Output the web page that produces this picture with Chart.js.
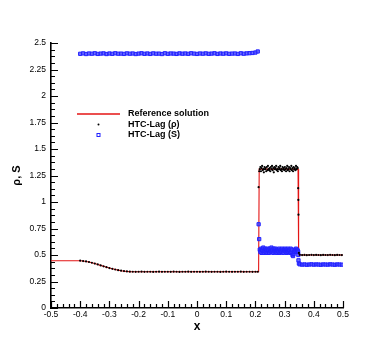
<!DOCTYPE html>
<html><head><meta charset="utf-8">
<script src="https://cdn.jsdelivr.net/npm/chart.js@4"></script>
<style>html,body{margin:0;padding:0;background:#fff;}canvas{display:block;}</style>
</head><body>
<canvas id="c" width="390" height="347"></canvas>
<script>
const xTickValues = [-0.5,-0.4,-0.3,-0.2,-0.1,0,0.1,0.2,0.3,0.4,0.5];
const xTickLabels = ['-0.5','-0.4','-0.3','-0.2','-0.1','0','0.1','0.2','0.3','0.4','0.5'];
const yTickValues = [0,0.25,0.5,0.75,1,1.25,1.5,1.75,2,2.25,2.5];
const yTickLabels = ['0','0.25','0.5','0.75','1','1.25','1.5','1.75','2','2.25','2.5'];
const seriesLabels = ['Reference solution','HTC-Lag (\u03c1)','HTC-Lag (S)'];
const xTitle = 'x';
const yTitle = '\u03c1, S';

const refX = [-0.5,-0.40,-0.39,-0.38,-0.37,-0.36,-0.35,-0.34,-0.33,-0.32,-0.31,-0.30,-0.29,-0.28,-0.27,-0.26,-0.25,-0.24,-0.23,-0.22,0.211,0.213,0.346,0.348,0.5];
const refRho = [0.446,0.446,0.443,0.439,0.434,0.427,0.419,0.411,0.402,0.393,0.385,0.377,0.370,0.363,0.357,0.352,0.348,0.345,0.343,0.342,0.342,1.31,1.31,0.50,0.50];

const cellX = [
-0.40,-0.39,-0.38,-0.37,-0.36,-0.35,-0.34,-0.33,-0.32,-0.31,
-0.30,-0.29,-0.28,-0.27,-0.26,-0.25,-0.24,-0.23,-0.22,-0.21,
-0.20,-0.19,-0.18,-0.17,-0.16,-0.15,-0.14,-0.13,-0.12,-0.11,
-0.10,-0.09,-0.08,-0.07,-0.06,-0.05,-0.04,-0.03,-0.02,-0.01,
0.00,0.01,0.02,0.03,0.04,0.05,0.06,0.07,0.08,0.09,
0.10,0.11,0.12,0.13,0.14,0.15,0.16,0.17,0.18,0.19,
0.20,0.208,
0.211,0.213,
0.215,0.217,0.219,0.221,0.223,0.225,0.227,0.229,0.231,0.233,
0.235,0.237,0.239,0.241,0.243,0.245,0.247,0.249,0.251,0.253,
0.255,0.257,0.259,0.261,0.263,0.265,0.267,0.269,0.271,0.273,
0.275,0.277,0.279,0.281,0.283,0.285,0.287,0.289,0.291,0.293,
0.295,0.297,0.299,0.301,0.303,0.305,0.307,0.309,0.311,0.313,
0.315,0.317,0.319,0.321,0.323,0.325,0.327,0.329,0.331,0.333,
0.335,0.337,0.339,0.341,0.343,0.345,
0.3465,0.347,0.3475,0.349,
0.352,0.360,0.368,0.376,0.384,0.392,0.400,0.408,0.416,0.424,
0.432,0.440,0.448,0.456,0.464,0.472,0.480,0.488,0.496];

const rhoValues = [
0.446,0.443,0.439,0.434,0.427,0.419,0.411,0.402,0.393,0.385,
0.377,0.370,0.363,0.357,0.352,0.348,0.345,0.343,0.342,0.341,
0.342,0.343,0.341,0.342,0.342,0.340,0.342,0.343,0.341,0.342,
0.342,0.341,0.343,0.342,0.340,0.342,0.342,0.343,0.341,0.342,
0.342,0.341,0.342,0.343,0.342,0.341,0.342,0.342,0.340,0.342,
0.343,0.342,0.341,0.342,0.342,0.343,0.341,0.342,0.342,0.341,
0.342,0.342,
1.14,1.29,
1.31,1.33,1.29,1.32,1.34,1.30,1.31,1.28,1.33,1.31,
1.32,1.29,1.33,1.30,1.34,1.31,1.30,1.32,1.29,1.33,
1.31,1.34,1.30,1.32,1.28,1.33,1.31,1.32,1.34,1.30,
1.31,1.29,1.33,1.31,1.32,1.34,1.30,1.31,1.29,1.33,
1.31,1.32,1.30,1.33,1.31,1.29,1.32,1.34,1.30,1.31,
1.33,1.29,1.32,1.31,1.34,1.30,1.32,1.29,1.33,1.31,
1.32,1.30,1.34,1.31,1.33,1.32,
1.13,1.02,0.88,0.52,
0.502,0.499,0.501,0.498,0.500,0.502,0.499,0.501,0.500,0.498,
0.501,0.500,0.499,0.502,0.500,0.498,0.501,0.500,0.499];

const sValues = [
2.398,2.402,2.396,2.401,2.399,2.403,2.397,2.400,2.402,2.396,
2.401,2.398,2.403,2.399,2.400,2.397,2.402,2.399,2.401,2.396,
2.400,2.403,2.398,2.401,2.397,2.402,2.399,2.400,2.396,2.403,
2.398,2.401,2.400,2.397,2.402,2.399,2.401,2.398,2.403,2.400,
2.397,2.401,2.399,2.402,2.398,2.400,2.403,2.397,2.401,2.399,
2.402,2.398,2.400,2.401,2.397,2.403,2.399,2.402,2.404,2.406,
2.410,2.420,
0.79,0.65,
0.55,0.53,0.56,0.52,0.55,0.54,0.57,0.52,0.54,0.56,
0.53,0.55,0.52,0.56,0.54,0.55,0.52,0.56,0.54,0.53,
0.57,0.54,0.55,0.52,0.56,0.54,0.53,0.56,0.54,0.52,
0.55,0.54,0.53,0.56,0.52,0.54,0.55,0.53,0.56,0.54,
0.52,0.55,0.54,0.56,0.53,0.55,0.52,0.54,0.56,0.53,
0.55,0.54,0.52,0.56,0.53,0.55,0.50,0.49,0.51,0.53,
0.55,0.54,0.56,0.53,0.55,0.54,
0.53,0.50,0.45,0.42,
0.412,0.409,0.411,0.408,0.410,0.412,0.409,0.411,0.410,0.408,
0.411,0.410,0.409,0.412,0.410,0.408,0.411,0.410,0.409];

const FONT = '"Liberation Sans", Arial, Helvetica, sans-serif';
const RED = 'rgb(228,20,20)';
const BLUE = 'rgb(35,35,255)';

const refData = refX.map((x, i) => ({x, y: refRho[i]}));
const rhoData = cellX.map((x, i) => ({x, y: rhoValues[i]}));
const sData = cellX.map((x, i) => ({x, y: sValues[i]}));

const axisTicks = {
  id: 'axisTicks',
  afterDraw(chart) {
    const {ctx, chartArea: a, scales: {x, y}} = chart;
    ctx.save();
    ctx.strokeStyle = '#000';
    ctx.lineWidth = 1.2;
    ctx.beginPath();
    for (let i = 0; i < yTickValues.length; i++) {
      const p = Math.round(y.getPixelForValue(yTickValues[i])) + 0.5;
      ctx.moveTo(a.left, p); ctx.lineTo(a.left + 7, p);
      if (i < yTickValues.length - 1) {
        const step = (yTickValues[i + 1] - yTickValues[i]) / 4;
        for (let k = 1; k < 4; k++) {
          const q = Math.round(y.getPixelForValue(yTickValues[i] + k * step)) + 0.5;
          ctx.moveTo(a.left, q); ctx.lineTo(a.left + 4, q);
        }
      }
    }
    for (let i = 0; i < xTickValues.length; i++) {
      const p = Math.round(x.getPixelForValue(xTickValues[i])) + 0.5;
      ctx.moveTo(p, a.bottom); ctx.lineTo(p, a.bottom - 7);
      if (i < xTickValues.length - 1) {
        const step = (xTickValues[i + 1] - xTickValues[i]) / 5;
        for (let k = 1; k < 5; k++) {
          const q = Math.round(x.getPixelForValue(xTickValues[i] + k * step)) + 0.5;
          ctx.moveTo(q, a.bottom); ctx.lineTo(q, a.bottom - 4);
        }
      }
    }
    ctx.stroke();
    ctx.restore();
  }
};

const legendBox = {
  id: 'legendBox',
  afterDatasetsDraw(chart) {
    const {ctx} = chart;
    const ds = chart.data.datasets;
    const x0 = 77, x1 = 120, tx = 128, y0 = 114, dy = 10.5;
    ctx.save();
    ctx.strokeStyle = RED; ctx.lineWidth = 1.3;
    ctx.beginPath(); ctx.moveTo(x0, y0); ctx.lineTo(x1, y0); ctx.stroke();
    ctx.fillStyle = '#000';
    ctx.beginPath(); ctx.arc(98.5, y0 + dy, 1, 0, Math.PI * 2); ctx.fill();
    ctx.strokeStyle = BLUE; ctx.lineWidth = 1;
    ctx.strokeRect(97, y0 + 2 * dy - 1.5, 3, 3);
    ctx.fillStyle = '#000';
    ctx.font = 'bold 9px ' + FONT;
    ctx.textBaseline = 'middle';
    ctx.textAlign = 'left';
    ds.forEach((d, i) => ctx.fillText(d.label, tx, y0 + i * dy));
    ctx.restore();
  }
};

new Chart(document.getElementById('c'), {
  type: 'scatter',
  data: {
    datasets: [
      {label: seriesLabels[0], data: refData, showLine: true, borderColor: RED, borderWidth: 1.1,
       pointRadius: 0, fill: false, tension: 0, order: 3},
      {label: seriesLabels[1], data: rhoData, showLine: false, pointStyle: 'circle', pointRadius: 1.1,
       pointBackgroundColor: '#000', pointBorderWidth: 0, order: 1},
      {label: seriesLabels[2], data: sData, showLine: false, pointStyle: 'rect', pointRadius: 2.3,
       pointBackgroundColor: 'rgba(60,60,255,0.75)', pointBorderColor: BLUE, pointBorderWidth: 1, order: 2}
    ]
  },
  options: {
    responsive: false,
    animation: false,
    devicePixelRatio: 1,
    layout: {padding: {left: 0, right: 47, top: 43, bottom: 0}},
    plugins: {legend: {display: false}, tooltip: {enabled: false}},
    scales: {
      x: {
        type: 'linear', min: -0.5, max: 0.5,
        afterBuildTicks: s => { s.ticks = xTickValues.map(v => ({value: v})); },
        afterFit: s => { s.height = 39; },
        ticks: {callback: (v, i) => xTickLabels[i], autoSkip: false, maxRotation: 0, padding: 2,
                color: '#000', font: {family: FONT, size: 8.5}},
        grid: {display: false, drawTicks: false},
        border: {display: true, color: '#000', width: 1.6},
        title: {display: true, text: xTitle, color: '#000', font: {family: FONT, size: 12, weight: 'bold'},
                padding: {top: 0, bottom: 13}}
      },
      y: {
        type: 'linear', min: 0, max: 2.5,
        afterBuildTicks: s => { s.ticks = yTickValues.map(v => ({value: v})); },
        afterFit: s => { s.width = 51; },
        ticks: {callback: (v, i) => yTickLabels[i], autoSkip: false, padding: 5,
                color: '#000', font: {family: FONT, size: 8.5}},
        grid: {display: false, drawTicks: false},
        border: {display: true, color: '#000', width: 1.6},
        title: {display: true, text: yTitle, color: '#000', font: {family: FONT, size: 11, weight: 'bold'},
                padding: {top: 10, bottom: 0}}
      }
    }
  },
  plugins: [axisTicks, legendBox]
});
</script>
</body></html>
